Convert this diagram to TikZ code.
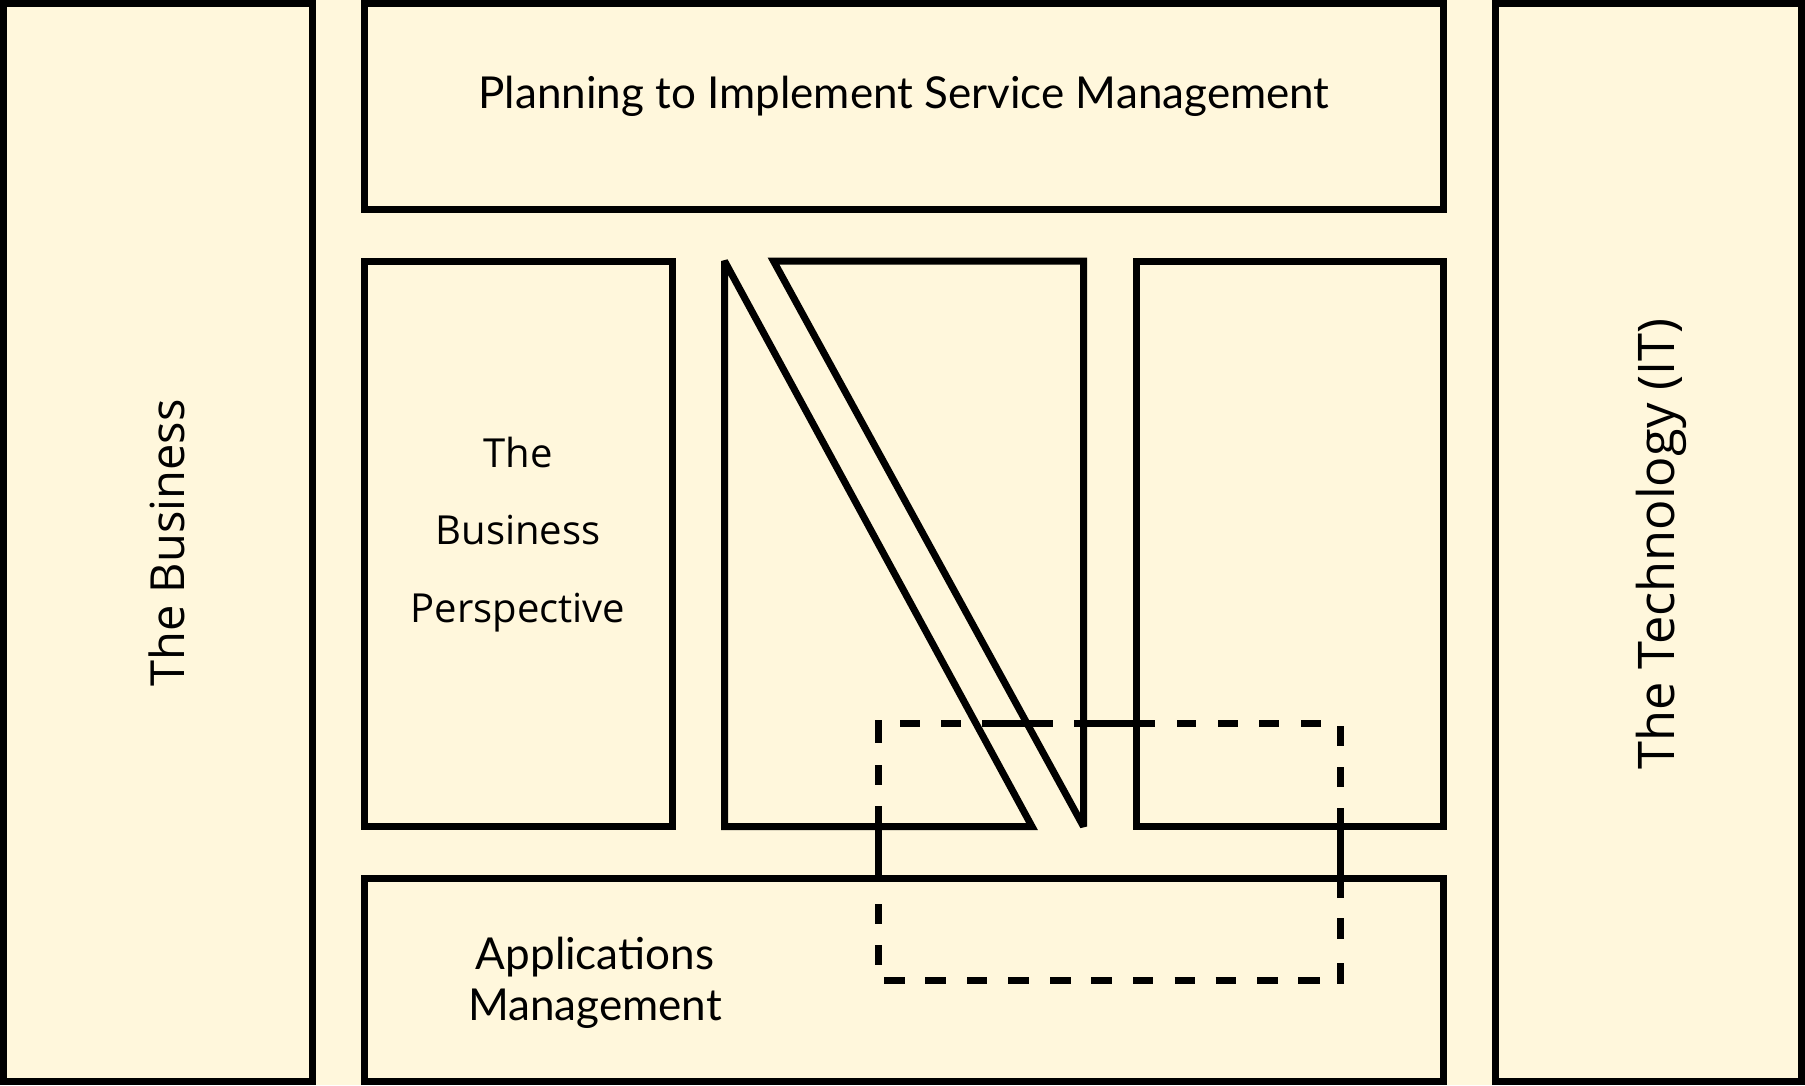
\documentclass[tikz,border=0pt]{standalone}
\usepackage{fontspec}
\setmainfont{Open Sans}
\newfontfamily\latofont{Lato}
\definecolor{cream}{RGB}{255,247,220}
\begin{document}
\begin{tikzpicture}[x=1pt,y=-1pt,
  box/.style={draw=black,line width=7pt,fill=cream,rectangle,inner sep=0pt},
  seg/.style={draw=black,line width=7pt,line cap=butt},
  lbl/.style={align=center,inner sep=0pt,text=black},
  ]
\useasboundingbox[fill=cream] (0,0) rectangle (1805,1085);
% outer columns
\node[box,minimum width=309pt,minimum height=1078pt] (biz) at (158,542.5) {};
\node[box,minimum width=306pt,minimum height=1078pt] (tech) at (1648.5,542.5) {};
% top & bottom bands
\node[box,minimum width=1079pt,minimum height=206pt] (plan) at (904,106.5) {};
\node[box,minimum width=1079pt,minimum height=203.5pt] (apps) at (904,979.75) {};
% middle boxes
\node[box,minimum width=308pt,minimum height=565.5pt] (bp) at (518.5,543.75) {};
\node[box,minimum width=307.5pt,minimum height=565.5pt] (rbox) at (1289.75,543.75) {};
% split middle shape
\coordinate (a1) at (724.5,261);
\coordinate (a2) at (724.5,826.5);
\coordinate (a3) at (1032,826.5);
\coordinate (b1) at (773.5,261);
\coordinate (b2) at (1083.5,261);
\coordinate (b3) at (1083.5,826.5);
\draw[seg,line join=miter,miter limit=3] (a1) -- (a2) -- (a3) -- cycle;
\draw[seg,line join=miter,miter limit=3] (b1) -- (b2) -- (b3) -- cycle;
% dashed region
\foreach \a/\b in {900/920,941/961,982/1053,1074/1155,1177/1196,1218/1238,1259/1279,1301/1321}
  \draw[seg] (\a,723.5) -- (\b,723.5);
\foreach \a/\b in {884/904.5,925.4/945.5,967/986.6,1008/1029,1050/1070.5,1091/1111.6,1133/1153,1174.6/1194.6,1215.6/1235.7,1257/1278,1298/1319.6}
  \draw[seg] (\a,980) -- (\b,980);
\foreach \a/\b in {720/743,765/785,806/882,904/924,945/965}
  \draw[seg] (878,\a) -- (878,\b);
\foreach \a/\b in {726/746,767/787,808/898,918/939,963/984}
  \draw[seg] (1340.6,\a) -- (1340.6,\b);
% labels
\node[lbl,font=\latofont\fontsize{44}{51}\selectfont] (tplan) at (904,96) {Planning to Implement Service Management};
\node[lbl,font=\latofont\fontsize{44}{51}\selectfont] (tapps) at (595,983) {Applications\\Management};
\node[lbl,font=\fontsize{40}{77.5}\selectfont] (tbp) at (518,534.5) {The\\Business\\Perspective};
\node[lbl,rotate=90,font=\fontsize{47}{50}\selectfont] (tbiz) at (167,543) {The Business};
\node[lbl,rotate=90,font=\fontsize{50.5}{50}\selectfont] (ttech) at (1661,544) {The Technology (IT)};
\end{tikzpicture}
\end{document}
